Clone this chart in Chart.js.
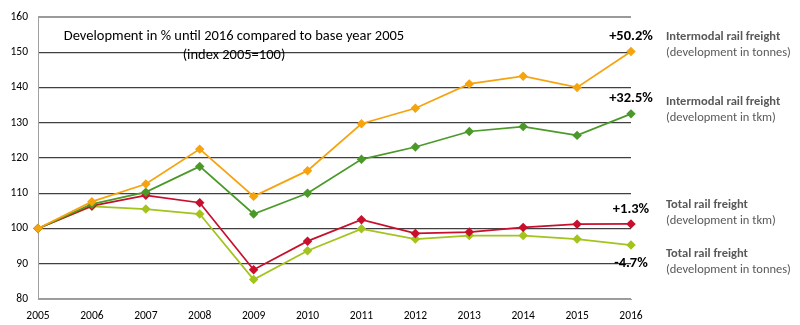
<!DOCTYPE html>
<html>
<head>
<meta charset="utf-8">
<script src="https://cdn.jsdelivr.net/npm/chart.js@4"></script>
<style>
  html, body { margin: 0; padding: 0; background: #fff; }
  #wrap { width: 800px; height: 325px; }
</style>
</head>
<body>
<div id="wrap"><canvas id="myChart" width="800" height="325"></canvas></div>
<script>
var years = ['2005', '2006', '2007', '2008', '2009', '2010', '2011', '2012', '2013', '2014', '2015', '2016'];

// index 2005 = 100
var intermodalTonnes = [100, 107.6, 112.6, 122.5, 109.1, 116.4, 129.7, 134.1, 141.0, 143.2, 140.0, 150.2];
var intermodalTkm    = [100, 106.9, 110.3, 117.6, 104.1, 110.0, 119.6, 123.1, 127.5, 128.9, 126.4, 132.5];
var totalTkm         = [100, 106.4, 109.4, 107.3, 88.3, 96.4, 102.5, 98.6, 99.0, 100.3, 101.2, 101.3];
var totalTonnes      = [100, 106.3, 105.5, 104.1, 85.5, 93.7, 99.9, 97.0, 98.0, 98.0, 97.0, 95.3];

var seriesNames = [
    ['Intermodal rail freight', '(development in tonnes)'],
    ['Intermodal rail freight', '(development in tkm)'],
    ['Total rail freight', '(development in tkm)'],
    ['Total rail freight', '(development in tonnes)']
];
var changeLabels = ['+50.2%', '+32.5%', '+1.3%', '-4.7%'];

var FONT = 'Carlito, Lato, "Open Sans", sans-serif';

function makeSet(label, data, color) {
    return {
        label: label,
        data: data,
        borderColor: color,
        backgroundColor: color,
        borderWidth: 1.75,
        pointStyle: 'rectRot',
        pointRadius: 3.5,
        pointHoverRadius: 3.5,
        tension: 0
    };
}

// labels next to the chart
var textPlugin = {
    id: 'texts',
    afterDraw: function(chart) {
        var ctx = chart.ctx;
        ctx.save();

        // title inside plot
        ctx.fillStyle = '#000';
        ctx.textAlign = 'center';
        ctx.textBaseline = 'middle';
        ctx.font = '14.5px ' + FONT;
        ctx.fillText('Development in % until 2016 compared to base year 2005', 234, 36);
        ctx.fillText('(index 2005=100)', 234, 55);

        // change labels at the last point
        ctx.font = 'bold 14.5px ' + FONT;
        for (var i = 0; i < 4; i++) {
            var pts = chart.getDatasetMeta(i).data;
            var p = pts[pts.length - 1];
            var dy = i == 3 ? 18 : -15;
            ctx.fillText(changeLabels[i], p.x, p.y + dy);
        }

        // series names on the right
        var nameY = [37, 101.5, 205, 254];
        ctx.textAlign = 'left';
        ctx.fillStyle = '#595959';
        for (var j = 0; j < 4; j++) {
            ctx.font = 'bold 12.5px ' + FONT;
            ctx.fillText(seriesNames[j][0], 666, nameY[j]);
            ctx.font = '12.5px ' + FONT;
            ctx.fillText(seriesNames[j][1], 666, nameY[j] + 16);
        }
        ctx.restore();
    }
};

var ctx = document.getElementById('myChart');
var myChart = new Chart(ctx, {
    type: 'line',
    data: {
        labels: years,
        datasets: [
            makeSet('Intermodal tonnes', intermodalTonnes, '#f5a40f'),
            makeSet('Intermodal tkm', intermodalTkm, '#4b9a29'),
            makeSet('Total tkm', totalTkm, '#c8102e'),
            makeSet('Total tonnes', totalTonnes, '#a2c41c')
        ]
    },
    options: {
        responsive: false,
        animation: false,
        layout: { padding: { top: 8, right: 169, left: 0, bottom: 0 } },
        plugins: {
            legend: { display: false },
            tooltip: { enabled: false }
        },
        scales: {
            x: {
                offset: false,
                grid: { display: false },
                border: { display: true, color: '#a0a0a0', width: 1 },
                ticks: { color: '#000', font: { family: FONT, size: 11.5 }, padding: 2, maxRotation: 0 },
                afterFit: function(s) { s.height = 26; }
            },
            y: {
                min: 80,
                max: 160,
                ticks: { stepSize: 10, color: '#000', font: { family: FONT, size: 11.5 }, padding: 10 },
                grid: {
                    drawTicks: false,
                    color: function(c) {
                        return (c.tick && (c.tick.value == 160 || c.tick.value == 80)) ? '#9a9a9a' : '#404040';
                    },
                    lineWidth: function(c) {
                        return (c.tick && c.tick.value == 160) ? 2 : 1.2;
                    }
                },
                border: { display: true, color: '#a0a0a0', width: 1 },
                afterFit: function(s) { s.width = 38; }
            }
        }
    },
    plugins: [textPlugin]
});
</script>
</body>
</html>
